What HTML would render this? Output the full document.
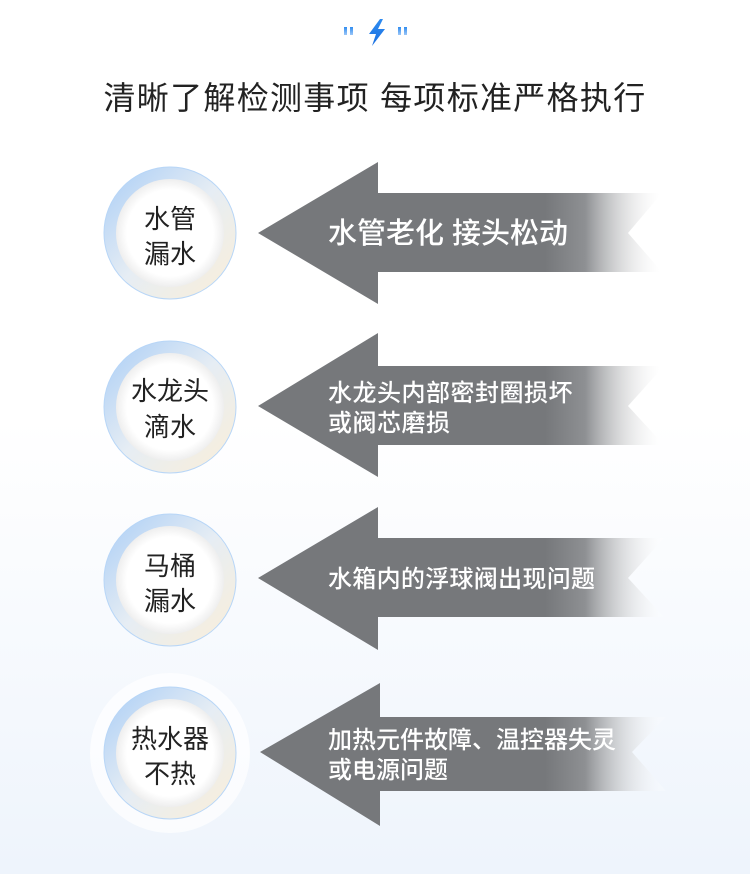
<!DOCTYPE html>
<html><head><meta charset="utf-8"><style>
html,body{margin:0;padding:0}
body{width:750px;height:874px;overflow:hidden;background:linear-gradient(#fff 0,#fff 420px,#eef4fc 874px);font-family:"Liberation Sans","Noto Sans CJK SC",sans-serif}
</style></head><body>
<svg width="750" height="874" viewBox="0 0 750 874" xmlns="http://www.w3.org/2000/svg" style="position:absolute;left:0;top:0" font-family="Liberation Sans,Noto Sans CJK SC,sans-serif">
<defs>
<linearGradient id="fade" gradientUnits="userSpaceOnUse" x1="545" y1="0" x2="660" y2="0">
<stop offset="0" stop-color="#76787b"/><stop offset="0.35" stop-color="#8e9093"/><stop offset="1" stop-color="#ffffff" stop-opacity="0.2"/>
</linearGradient>
<linearGradient id="ring" x1="0" y1="0" x2="1" y2="1">
<stop offset="0" stop-color="#a9cdf6"/><stop offset="0.5" stop-color="#e6edf4"/><stop offset="1" stop-color="#fbefd8"/>
</linearGradient>
<radialGradient id="inner" cx="0.5" cy="0.5" r="0.5">
<stop offset="0.8" stop-color="#ffffff"/><stop offset="1" stop-color="#eeeeee"/>
</radialGradient>
<linearGradient id="bolt" x1="0" y1="0" x2="0" y2="1"><stop offset="0" stop-color="#2f8cf0"/><stop offset="1" stop-color="#1a6fe0"/></linearGradient>
<linearGradient id="q" x1="0" y1="0" x2="0" y2="1"><stop offset="0" stop-color="#2f8cf0"/><stop offset="1" stop-color="#9cc7f7"/></linearGradient>
</defs>
<rect x="344" y="27" width="3" height="8" fill="url(#q)"/><rect x="350" y="27" width="3" height="8" fill="url(#q)"/>
<rect x="398" y="27" width="3" height="8" fill="url(#q)"/><rect x="404" y="27" width="3" height="8" fill="url(#q)"/>
<polygon points="380,19 369,34 376,34 372,46 385,29 378,29 383,19" fill="url(#bolt)"/>
<text x="375" y="109" text-anchor="middle" font-size="32" fill="#222" letter-spacing="1.3">清晰了解检测事项 每项标准严格执行</text>

<g>
<circle cx="170" cy="233" r="66" fill="url(#ring)" stroke="#b8d6f7" stroke-width="1"/>
<circle cx="170" cy="233" r="54" fill="url(#inner)"/>
<text x="170" y="228" text-anchor="middle" font-size="26" fill="#222">水管</text>
<text x="170" y="263" text-anchor="middle" font-size="26" fill="#222">漏水</text>
<polygon points="258,233 378,162 378,193 662,193 628,233 662,272 378,272 378,304" fill="url(#fade)"/>
<text x="328" y="243" font-size="29" fill="#fff" font-weight="500">水管老化 接头松动</text>
</g>
<g>
<circle cx="170" cy="407" r="66" fill="url(#ring)" stroke="#b8d6f7" stroke-width="1"/>
<circle cx="170" cy="407" r="54" fill="url(#inner)"/>
<text x="170" y="400" text-anchor="middle" font-size="26" fill="#222">水龙头</text>
<text x="170" y="436" text-anchor="middle" font-size="26" fill="#222">滴水</text>
<polygon points="258,406 378,333 378,366 664,366 628,406 664,445 378,445 378,477" fill="url(#fade)"/>
<text x="328" y="401" font-size="24" fill="#fff" font-weight="500" letter-spacing="0.5">水龙头内部密封圈损坏</text>
<text x="328" y="431" font-size="24" fill="#fff" font-weight="500" letter-spacing="0.5">或阀芯磨损</text>
</g>
<g>
<circle cx="170" cy="580" r="66" fill="url(#ring)" stroke="#b8d6f7" stroke-width="1"/>
<circle cx="170" cy="580" r="54" fill="url(#inner)"/>
<text x="170" y="575" text-anchor="middle" font-size="26" fill="#222">马桶</text>
<text x="170" y="610" text-anchor="middle" font-size="26" fill="#222">漏水</text>
<polygon points="258,578 378,507 378,538 664,538 628,578 664,617 378,617 378,650" fill="url(#fade)"/>
<text x="328" y="587" font-size="24" fill="#fff" font-weight="500" letter-spacing="0.3">水箱内的浮球阀出现问题</text>
</g>
<g>
<circle cx="170" cy="753" r="80" fill="#ffffff" opacity="0.7"/>
<circle cx="170" cy="753" r="66" fill="url(#ring)" stroke="#b8d6f7" stroke-width="1"/>
<circle cx="170" cy="753" r="54" fill="url(#inner)"/>
<text x="170" y="748" text-anchor="middle" font-size="26" fill="#222">热水器</text>
<text x="170" y="783" text-anchor="middle" font-size="26" fill="#222">不热</text>
<polygon points="260,752 380,683 380,717 666,717 632,752 666,791 380,791 380,826" fill="url(#fade)"/>
<text x="328" y="748" font-size="24" fill="#fff" font-weight="500">加热元件故障、温控器失灵</text>
<text x="328" y="778" font-size="24" fill="#fff" font-weight="500">或电源问题</text>
</g>
</svg>
</body></html>
